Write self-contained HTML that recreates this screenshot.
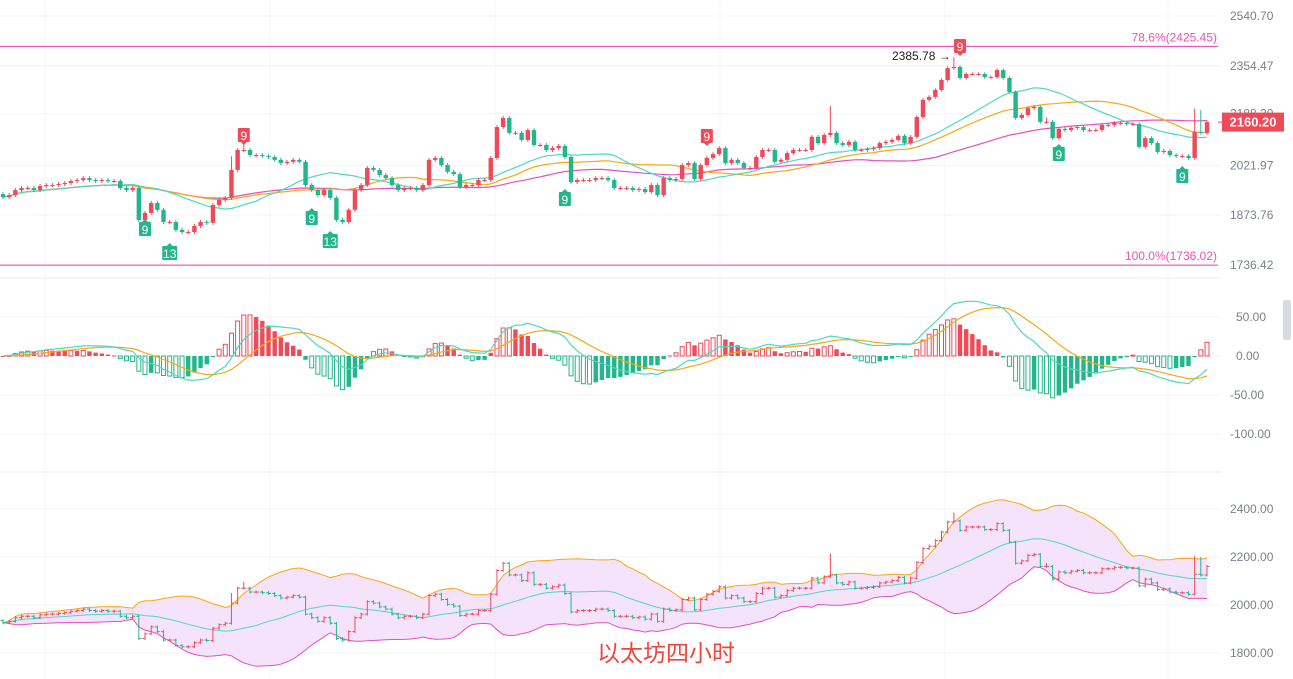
<!DOCTYPE html>
<html><head><meta charset="utf-8">
<style>
html,body{margin:0;padding:0;background:#fff;}
body{width:1293px;height:679px;overflow:hidden;font-family:"Liberation Sans","Noto Sans CJK SC",sans-serif;}
svg{display:block;}
.ax{font-size:12px;fill:#7a7f8a;}
</style></head>
<body>
<svg id="chart" width="1293" height="679" viewBox="0 0 1293 679" xmlns="http://www.w3.org/2000/svg"></svg>
<script>
const closes=[1926,1932,1947,1953,1953,1947,1959,1962,1962,1965,1968,1974,1977,1983,1977,1974,1977,1974,1974,1953,1947,1953,1860,1880,1909,1889,1854,1854,1832,1826,1826,1843,1854,1852,1903,1918,1924,2008,2070,2070,2054,2054,2051,2048,2039,2029,2033,2039,2033,1962,1947,1932,1947,1924,1860,1854,1889,1947,1962,2014,2008,1992,1983,1962,1947,1953,1953,1947,1962,2039,2045,2023,2002,1995,1956,1962,1962,1977,1977,2045,2144,2174,2125,2125,2102,2134,2086,2086,2070,2076,2083,2048,1971,1977,1977,1977,1983,1983,1977,1953,1953,1953,1947,1950,1941,1962,1932,1983,1977,1980,2023,2029,1980,2023,2045,2057,2076,2029,2039,2029,2014,2014,2048,2070,2070,2033,2039,2060,2070,2070,2070,2112,2092,2118,2125,2092,2086,2096,2070,2070,2073,2076,2092,2096,2102,2115,2092,2112,2177,2235,2245,2269,2304,2346,2350,2311,2325,2325,2325,2314,2314,2339,2311,2262,2174,2184,2207,2211,2161,2161,2108,2138,2134,2141,2144,2134,2134,2134,2151,2151,2157,2157,2154,2154,2080,2108,2092,2064,2067,2054,2051,2051,2045,2128,2125,2160.2];
const firstOpen=1935;
const wickSize=6;
const highOverrides={154:2385.78,37:2050,39:2095,134:2215,193:2205,194:2200,169:2175};
const topTicks=[2540.70,2354.47,2188.20,2021.97,1873.76,1736.42];
const macdTicks=[50,0,-50,-100];
const bottomTicks=[2400,2200,2000,1800];
const fibLevels=[["78.6%",2425.45],["100.0%",1736.02]];
const tdMarks=[[39,"9","up"],[23,"9","dn"],[27,"13","dn"],[50,"9","dn"],[53,"13","dn"],[91,"9","dn"],[114,"9","up"],[155,"9","up"],[171,"9","dn"],[191,"9","dn"]];
const tdY={39:135,23:229,27:253,50:218,53:241,91:199,114:136,155:46,171:154,191:176};

const NS="http://www.w3.org/2000/svg";
const svg=document.getElementById('chart');
function el(t,a,p){const e=document.createElementNS(NS,t);for(const k in a)e.setAttribute(k,a[k]);(p||svg).appendChild(e);return e;}
const RED="#ef4a5a",GREEN="#23b58c";
const n=closes.length, X0=3, X1=1207, step=(X1-X0)/(n-1);
const xs=i=>X0+i*step;
const yTop=p=>16+654*Math.log(2540.7/p);
const yMacd=v=>356-v*0.78;
const yBot=p=>605-(p-2000)*0.24;
const opens=closes.map((c,i)=>i?closes[i-1]:firstOpen);
const highs=closes.map((c,i)=>highOverrides[i]!==undefined?highOverrides[i]:Math.max(c,opens[i])+wickSize);
const lows=closes.map((c,i)=>Math.min(c,opens[i])-wickSize);
function sma(k){return closes.map((c,i)=>{const s=closes.slice(Math.max(0,i-k+1),i+1);return s.reduce((a,b)=>a+b,0)/s.length;});}
function ema(arr,k){const a=2/(k+1);let r=[];arr.forEach((v,i)=>r.push(i?r[i-1]+a*(v-r[i-1]):v));return r;}
function line(vals,f,col,w,name,g){const d=vals.map((v,i)=>(i?'L':'M')+xs(i).toFixed(1)+' '+f(v).toFixed(1)).join('');const p=el('path',{d:d,fill:'none',stroke:col,'stroke-width':w},g);return p;}

// grids
const grid=el('g',{});
[45,270,495,720,945,1168].forEach(x=>el('line',{x1:x,x2:x,y1:0,y2:679,stroke:'#f3f4f6'},grid));
topTicks.forEach(t=>el('line',{x1:0,x2:1220,y1:yTop(t),y2:yTop(t),stroke:'#f3f4f6'},grid));
macdTicks.forEach(t=>el('line',{x1:0,x2:1220,y1:yMacd(t),y2:yMacd(t),stroke:'#f3f4f6'},grid));
bottomTicks.forEach(t=>el('line',{x1:0,x2:1220,y1:yBot(t),y2:yBot(t),stroke:'#f3f4f6'},grid));
el('line',{x1:0,x2:1220,y1:278,y2:278,stroke:'#eceef1'},grid);
el('line',{x1:0,x2:1220,y1:472,y2:472,stroke:'#eceef1'},grid);

// axis labels
const axis=el('g',{});
topTicks.forEach(t=>{const e=el('text',{x:1230,y:yTop(t)+4,class:'ax'},axis);e.textContent=t.toFixed(2);});
macdTicks.forEach(t=>{const e=el('text',{x:t<0?1230:1236,y:yMacd(t)+4,class:'ax'},axis);e.textContent=t.toFixed(2);});
bottomTicks.forEach(t=>{const e=el('text',{x:1230,y:yBot(t)+4,class:'ax'},axis);e.textContent=t.toFixed(2);});

// fib lines
fibLevels.forEach(([lab,v])=>{const g=el('g',{});
el('line',{x1:0,x2:1218,y1:yTop(v),y2:yTop(v),stroke:'#e83fb8','stroke-width':1},g);
const t=el('text',{x:1217,y:yTop(v)-5,'text-anchor':'end','font-size':12,fill:'#e455b8'},g);t.textContent=lab+'('+v.toFixed(2)+')';});

// MAs top
const ma20=sma(20),ma30=sma(30),ma60=sma(60);
line(ma60,yTop,'#e64fc0',1.2,'ma60-line');
line(ma30,yTop,'#f7a814',1.2,'ma30-line');
line(ma20,yTop,'#4fd8c0',1.2,'ma20-line');

// candles
const cg=el('g',{});
closes.forEach((c,i)=>{const o=opens[i],col=c>=o?RED:GREEN,x=xs(i);
const g=el('g',{},cg);
el('line',{x1:x,x2:x,y1:yTop(highs[i]),y2:yTop(lows[i]),stroke:col,'stroke-width':1},g);
const y1=yTop(Math.max(o,c)),y2=yTop(Math.min(o,c));
el('rect',{x:x-2.2,y:y1,width:4.4,height:Math.max(1,y2-y1),fill:col},g);});

// TD marks
tdMarks.forEach(([i,lab,dir])=>{const x=xs(i),y=tdY[i],col=dir=='up'?RED:GREEN,w=lab.length>1?15:12;
const g=el('g',{});
el('rect',{x:x-w/2,y:y-7,width:w,height:14,fill:col,rx:1},g);
if(dir=='up')el('path',{d:`M${x-3} ${y+7}L${x+3} ${y+7}L${x} ${y+10}Z`,fill:col},g);else el('path',{d:`M${x-3} ${y-7}L${x+3} ${y-7}L${x} ${y-10}Z`,fill:col},g);
const t=el('text',{x:x,y:y+5,'text-anchor':'middle','font-size':12,fill:'#fff'},g);t.textContent=lab;});
const hl=el('text',{x:892,y:60,'font-size':12,fill:'#222'});hl.textContent='2385.78 →';

// price tag
const pt=el('g',{});
el('line',{x1:1218,x2:1224,y1:yTop(closes[n-1]),y2:yTop(closes[n-1]),stroke:RED},pt);
el('rect',{x:1222,y:yTop(closes[n-1])-9.5,width:62,height:19,fill:RED},pt);
const ptt=el('text',{x:1253,y:yTop(closes[n-1])+4.5,'text-anchor':'middle','font-size':13,'font-weight':'bold',fill:'#fff'},pt);ptt.textContent=closes[n-1].toFixed(2);
const sb=el('rect',{x:1283,y:300,width:8,height:40,fill:'#d8dadf',rx:2});

// MACD
const e12=ema(closes,12),e26=ema(closes,26),dif=e12.map((v,i)=>v-e26[i]),dea=ema(dif,9),hist=dif.map((v,i)=>2*(v-dea[i]));
const mg=el('g',{});
hist.forEach((h,i)=>{const x=xs(i),col=h>=0?RED:GREEN,grow=i>0&&Math.abs(h)>Math.abs(hist[i-1]);
const y1=Math.min(yMacd(h),yMacd(0)),hh=Math.max(1,Math.abs(yMacd(h)-yMacd(0)));
const r=el('rect',grow?{x:x-2,y:y1,width:4,height:hh,fill:'none',stroke:col,'stroke-width':1}:{x:x-2.2,y:y1,width:4.4,height:hh,fill:col},mg);
});
line(dea,yMacd,'#f7a814',1.2,'macd-dea-line');
line(dif,yMacd,'#4fd8c0',1.2,'macd-dif-line');

// Bollinger bottom
const mid=sma(20);
const sd=closes.map((c,i)=>{const s=closes.slice(Math.max(0,i-19),i+1),m=mid[i];return Math.sqrt(s.reduce((a,b)=>a+(b-m)*(b-m),0)/s.length);});
const up=mid.map((m,i)=>m+2*sd[i]),dn=mid.map((m,i)=>m-2*sd[i]);
const fd=up.map((v,i)=>(i?'L':'M')+xs(i).toFixed(1)+' '+yBot(v).toFixed(1)).join('')+dn.map((v,i)=>i).reverse().map(i=>'L'+xs(i).toFixed(1)+' '+yBot(dn[i]).toFixed(1)).join('')+'Z';
const bf=el('path',{d:fd,fill:'#f4e3fb'});
line(up,yBot,'#f7a814',1,'bollinger-upper');
line(dn,yBot,'#e64fc0',1,'bollinger-lower');
line(mid,yBot,'#4fd8c0',1,'bollinger-middle');
const bg=el('g',{});
closes.forEach((c,i)=>{const o=opens[i],col=c>=o?RED:GREEN,x=xs(i);
const g=el('g',{},bg);
el('line',{x1:x,x2:x,y1:yBot(highs[i]),y2:yBot(lows[i]),stroke:col},g);
el('line',{x1:x-2.5,x2:x,y1:yBot(o),y2:yBot(o),stroke:col},g);
el('line',{x1:x,x2:x+2.5,y1:yBot(c),y2:yBot(c),stroke:col},g);});
const tt=el('text',{x:666,y:661,'text-anchor':'middle','font-size':23,fill:'#f0443c'});tt.textContent='以太坊四小时';
</script>
</body></html>
